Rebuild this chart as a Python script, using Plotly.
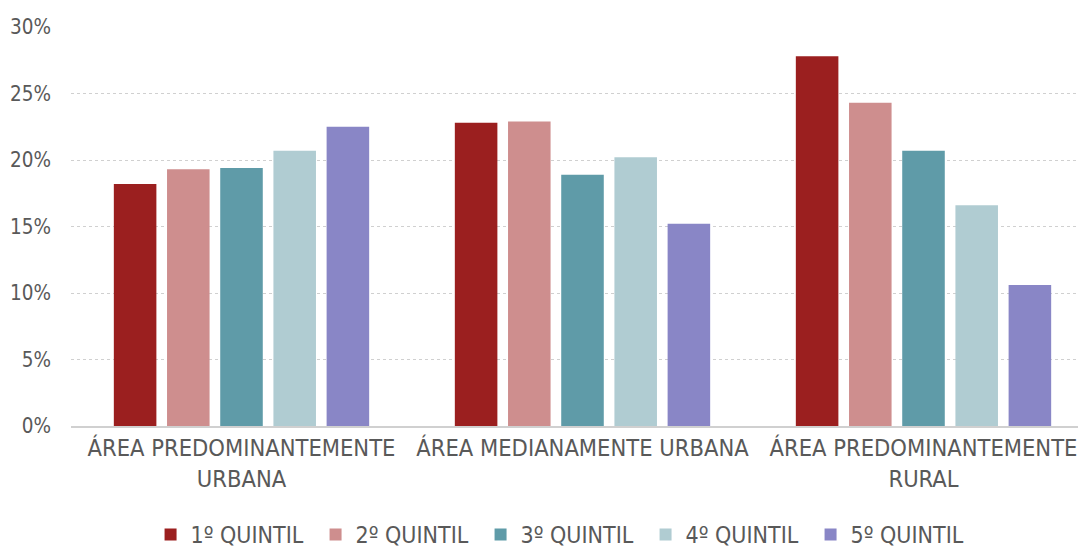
import plotly.graph_objects as go

categories = ["ÁREA PREDOMINANTEMENTE<br>URBANA", "ÁREA MEDIANAMENTE URBANA", "ÁREA PREDOMINANTEMENTE<br>RURAL"]
series_names = ["1º QUINTIL", "2º QUINTIL", "3º QUINTIL", "4º QUINTIL", "5º QUINTIL"]
q1 = [18.2, 22.8, 27.8]
q2 = [19.3, 22.9, 24.3]
q3 = [19.4, 18.9, 20.7]
q4 = [20.7, 20.2, 16.6]
q5 = [22.5, 15.2, 10.6]
colors = ["#9B1F1F", "#CE8E8E", "#5F9BA8", "#B0CCD2", "#8986C6"]
y_ticks = [0, 5, 10, 15, 20, 25, 30]
y_tick_labels = ["0%", "5%", "10%", "15%", "20%", "25%", "30%"]

FONT = "DejaVu Sans Condensed, Liberation Sans Narrow, sans-serif"

fig = go.Figure()
for name, vals, c in zip(series_names, [q1, q2, q3, q4, q5], colors):
    fig.add_trace(go.Bar(x=categories, y=vals, name=name, marker_color=c,
                         marker_line_width=0))

fig.update_layout(
    width=1086, height=547,
    margin=dict(l=63, r=0, t=19, b=129, autoexpand=False),
    paper_bgcolor="white", plot_bgcolor="white",
    barmode="group", bargap=0.22, bargroupgap=0.2,
    font=dict(family=FONT, size=23.5, color="#595959"),
    showlegend=True,
    legend=dict(orientation="h", x=0.481, xanchor="center", y=-0.218, yanchor="top",
                font=dict(size=23, color="#595959"), itemwidth=30,
                entrywidth=120, entrywidthmode="pixels",
                traceorder="normal"),
    yaxis=dict(range=[0, 30], tickvals=y_ticks, ticktext=y_tick_labels,
               showgrid=True, gridcolor="#D0D0D0", griddash="dot", gridwidth=1,
               zeroline=False, showline=False, ticks="", ticklabelstandoff=19,
               tickfont=dict(size=20.5), automargin=False),
    xaxis=dict(showline=True, linecolor="#D0D0D0", linewidth=2, ticks="",
               showgrid=False, automargin=False),
)
fig.write_html("out.html")
